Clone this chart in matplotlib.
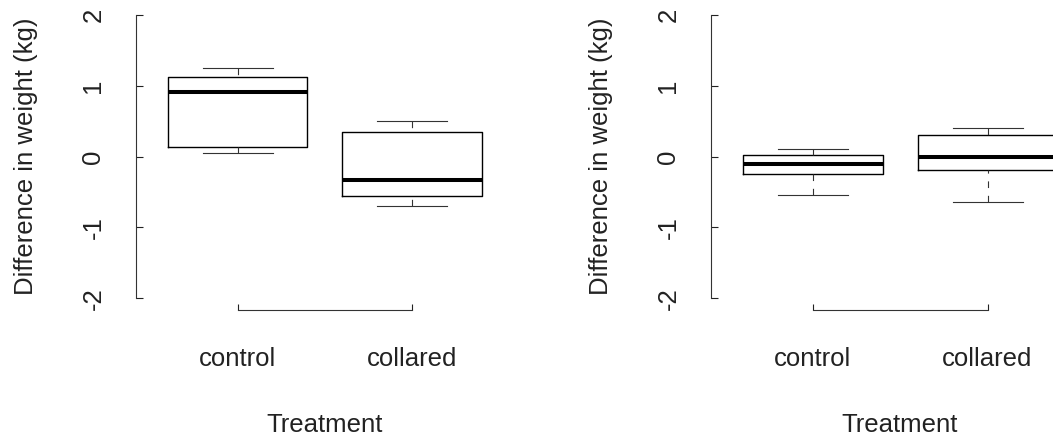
import matplotlib
matplotlib.use("Agg")
import matplotlib.pyplot as plt

plt.rcParams['font.family'] = ['Liberation Sans', 'DejaVu Sans']

categories = ['control', 'collared']

# Panel 1 box statistics
p1_whislo = [0.05, -0.69]
p1_q1 = [0.14, -0.56]
p1_med = [0.92, -0.33]
p1_q3 = [1.13, 0.35]
p1_whishi = [1.25, 0.51]

# Panel 2 box statistics
p2_whislo = [-0.54, -0.64]
p2_q1 = [-0.24, -0.19]
p2_med = [-0.11, 0.0]
p2_q3 = [0.03, 0.31]
p2_whishi = [0.11, 0.41]

yticks = [-2, -1, 0, 1, 2]
ylabel = 'Difference in weight (kg)'
xlabel = 'Treatment'

W, H = 1053, 436
fig = plt.figure(figsize=(W / 100, H / 100), dpi=100)

FS = 18.5


def panel(left_px, whislo, q1, med, q3, whishi):
    ax = fig.add_axes([left_px / W, (H - 309.6) / H, 378 / W, 305.8 / H])
    stats = []
    for i, lab in enumerate(categories):
        stats.append(dict(label=lab, whislo=whislo[i], q1=q1[i], med=med[i],
                          q3=q3[i], whishi=whishi[i], fliers=[]))
    pos = list(range(1, len(categories) + 1))
    res = ax.bxp(stats, positions=pos, widths=0.8, capwidths=0.4,
                 showfliers=False,
                 boxprops=dict(color='black', lw=1.0),
                 medianprops=dict(color='black', lw=2.9, solid_capstyle='butt'),
                 whiskerprops=dict(color='#333333', lw=0.8, linestyle=(0, (6, 7))),
                 capprops=dict(color='#333333', lw=0.8))
    # dash pattern starts at the whisker end (as in R)
    for wl in res['whiskers']:
        wl.set_ydata(wl.get_ydata()[::-1])
        wl.set_xdata(wl.get_xdata()[::-1])
    ax.set_xlim(0.42, 2.58)
    ax.set_ylim(-2.16, 2.16)
    for s in ['top', 'right']:
        ax.spines[s].set_visible(False)
    ax.spines['left'].set_bounds(-2, 2)
    ax.spines['bottom'].set_bounds(1, 2)
    for s in ['left', 'bottom']:
        ax.spines[s].set_linewidth(0.8)
        ax.spines[s].set_color('#333333')
    ax.set_yticks(yticks)
    ax.set_yticklabels([str(t) for t in yticks])
    ax.set_xticks(pos)
    ax.set_xticklabels(categories)
    ax.tick_params(axis='y', direction='in', length=4.8, width=0.8,
                   labelrotation=90, pad=22, labelsize=FS, colors='#222222')
    ax.tick_params(axis='x', direction='in', length=4.3, width=0.8,
                   pad=27, labelsize=FS, colors='#222222')
    for lab in ax.get_yticklabels():
        lab.set_va('center')
    ax.set_xlabel(xlabel, fontsize=FS, color='#222222')
    ax.xaxis.set_label_coords(0.5, -0.337)
    ax.set_ylabel(ylabel, fontsize=FS, color='#222222')
    ax.yaxis.set_label_coords(-0.259, 0.5)
    ax.patch.set_visible(False)
    return ax


panel(136, p1_whislo, p1_q1, p1_med, p1_q3, p1_whishi)
panel(711, p2_whislo, p2_q1, p2_med, p2_q3, p2_whishi)

fig.savefig('out.png', dpi=100)
